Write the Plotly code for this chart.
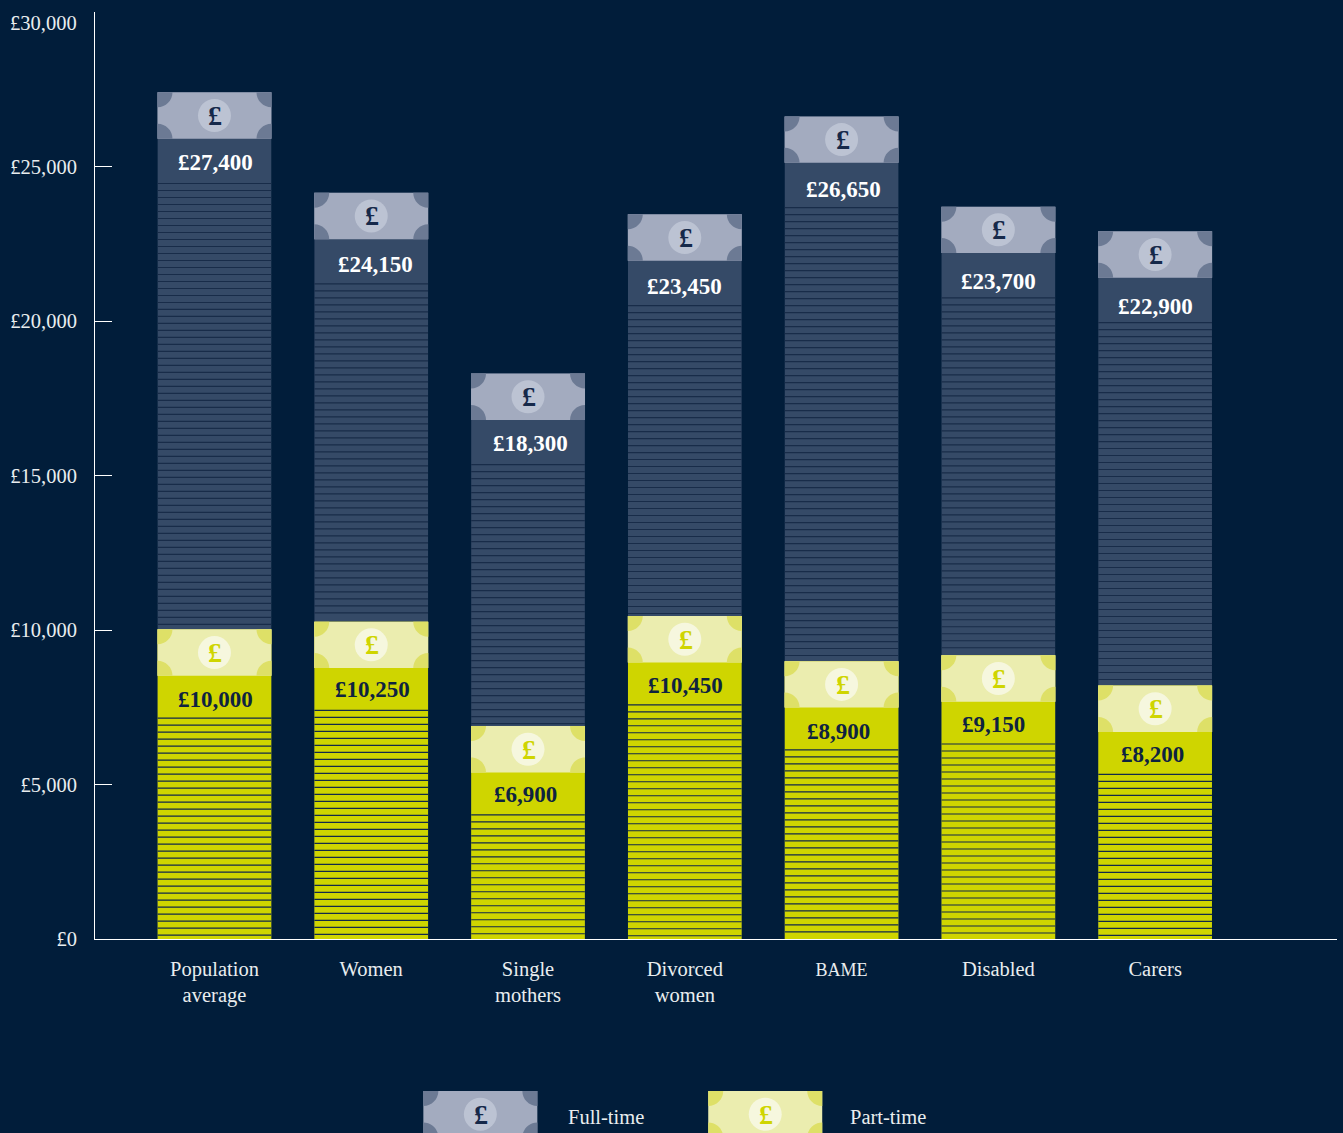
import plotly.graph_objects as go

categories = ["Population<br>average", "Women", "Single<br>mothers", "Divorced<br>women",
              '<span style="font-size:18px">BAME</span>', "Disabled", "Carers"]
full_time = [27400, 24150, 18300, 23450, 26620, 23700, 22900]
part_time = [10020, 10270, 6890, 10450, 8990, 9180, 8200]
full_labels = ["£27,400", "£24,150", "£18,300", "£23,450", "£26,650", "£23,700", "£22,900"]
part_labels = ["£10,000", "£10,250", "£6,900", "£10,450", "£8,900", "£9,150", "£8,200"]
tick_values = [0, 5000, 10000, 15000, 20000, 25000, 30000]
tick_labels = ["£0", "£5,000", "£10,000", "£15,000", "£20,000", "£25,000", ""]
top_tick_label = "£30,000"

BG = "#011d3a"
TEXT = "#e9edef"
FONT = "Liberation Serif"
BAR_W = 0.725
FT = dict(bar="#354a67", stripe="#182c49", note="#a3abbf", corner="#6c7a94", disc="#bcc3d3", glyph="#16294a", text="#ffffff")
PT = dict(bar="#cfd500", stripe="#12294a", note="#ebedaf", corner="#dee067", disc="#f6f7de", glyph="#cfd500", text="#0e2340")
NOTE_H = 1500
STRIPE_STEP = 226.5
FT_SHIFT = [1, 4, 2, 0, 2, 0, 0]
PT_SHIFT = [1, 1, -3, 1, -3, -5, -3]
FT_YSHIFT = [1, -1, 1, -1, -2, -4, -4]
PT_YSHIFT = [1, 3, 2, 1, 0, 2, 2]

W, H = 1343, 1133
L, R, T, B = 94.5, 6, 12, 194


def px(x):
    return (x - L) / (W - L - R)


def py(y):
    return (H - B - y) / (H - T - B)


fig = go.Figure()
xs = list(range(len(categories)))
fig.add_trace(go.Bar(x=xs, y=full_time, name="Full-time", width=BAR_W, marker=dict(color=FT["bar"], line_width=0)))
fig.add_trace(go.Bar(x=xs, y=part_time, name="Part-time", width=BAR_W, marker=dict(color=PT["bar"], line_width=0)))

shapes = []
annotations = []


def note(xa, ya, st, xref="x", yref="y"):
    hw, hh, r = 57, 23.2, 15
    k = r * 0.5523
    base = dict(xref=xref, yref=yref, xsizemode="pixel", ysizemode="pixel", xanchor=xa, yanchor=ya, layer="above", line_width=0)
    shapes.append(dict(base, type="rect", x0=-hw, x1=hw, y0=-hh, y1=hh, fillcolor=st["note"]))
    for sx, sy in [(-1, 1), (1, 1), (-1, -1), (1, -1)]:
        cx, cy = sx * hw, sy * hh
        ax, ay = cx - sx * r, cy
        bx, by = cx, cy - sy * r
        p = (f"M {cx} {cy} L {ax} {ay} C {ax} {ay - sy * k} {bx - sx * k} {by} {bx} {by} Z")
        shapes.append(dict(base, type="path", path=p, fillcolor=st["corner"]))
    shapes.append(dict(base, type="circle", x0=-16.5, x1=16.5, y0=-16.5, y1=16.5, fillcolor=st["disc"]))
    annotations.append(dict(x=xa, y=ya, xref=xref, yref=yref, text="£", showarrow=False, xshift=1, yshift=0,
                            xanchor="center", yanchor="middle",
                            font=dict(family=FONT, size=28, color=st["glyph"], weight="bold")))


def stripes(x, start, stop, st):
    x0, x1 = x - BAR_W / 2, x + BAR_W / 2
    parts = []
    y = start
    while y > stop:
        parts.append(f"M {x0} {y} L {x1} {y}")
        y -= STRIPE_STEP
    shapes.append(dict(type="path", xref="x", yref="y", path=" ".join(parts), layer="above",
                       line=dict(color=st["stripe"], width=1.2)))


for i, (f, p) in enumerate(zip(full_time, part_time)):
    stripes(i, f - 2950, p + 60, FT)
    stripes(i, p - 2870, 60, PT)
    note(i, f - NOTE_H / 2, FT)
    note(i, p - NOTE_H / 2, PT)
    annotations.append(dict(x=i, y=f - 2290, xref="x", yref="y", xshift=FT_SHIFT[i], yshift=FT_YSHIFT[i], text=full_labels[i],
                            showarrow=False, font=dict(family=FONT, size=23, color=FT["text"], weight="bold")))
    annotations.append(dict(x=i, y=p - 2290, xref="x", yref="y", xshift=PT_SHIFT[i], yshift=PT_YSHIFT[i], text=part_labels[i],
                            showarrow=False, font=dict(family=FONT, size=23, color=PT["text"], weight="bold")))

# legend notes (paper coordinates, cut by the page bottom as in the source)
note(px(480), py(1114.2), FT, "paper", "paper")
note(px(765), py(1114.2), PT, "paper", "paper")
for label, cx in [("Full-time", 605.5), ("Part-time", 887.5)]:
    annotations.append(dict(x=px(cx), y=py(1117), xref="paper", yref="paper", text=label, showarrow=False,
                            xanchor="center", yanchor="middle", font=dict(family=FONT, size=20.5, color=TEXT)))

# the top axis label sits lower than its tick in the source
annotations.append(dict(x=px(78), y=py(22.5), xref="paper", yref="paper", text=top_tick_label, showarrow=False,
                        xanchor="right", yanchor="middle", font=dict(family=FONT, size=20.5, color=TEXT)))

fig.update_layout(
    width=W, height=H, autosize=False,
    margin=dict(l=L, r=R, t=T, b=B),
    paper_bgcolor=BG, plot_bgcolor=BG,
    barmode="overlay", showlegend=False,
    font=dict(family=FONT, size=20.5, color=TEXT),
    shapes=shapes, annotations=annotations,
    xaxis=dict(range=[-0.762, 7.16], tickmode="array", tickvals=xs, ticktext=categories, showgrid=False, zeroline=False,
               showline=True, linecolor="#ffffff", linewidth=1, ticks="", ticklabelstandoff=11,
               tickfont=dict(family=FONT, size=20.5, color=TEXT)),
    yaxis=dict(range=[0, 30000], tickmode="array", tickvals=tick_values, ticktext=tick_labels, showgrid=False, zeroline=False,
               showline=True, linecolor="#ffffff", linewidth=1, ticks="inside", ticklen=17, tickcolor="#ffffff", tickwidth=1,
               ticklabelstandoff=13, tickfont=dict(family=FONT, size=20.5, color=TEXT)),
)

fig.write_html("out.html", config=dict(displayModeBar=False),
               post_script="document.body.style.margin='0';document.body.style.overflow='hidden';")
